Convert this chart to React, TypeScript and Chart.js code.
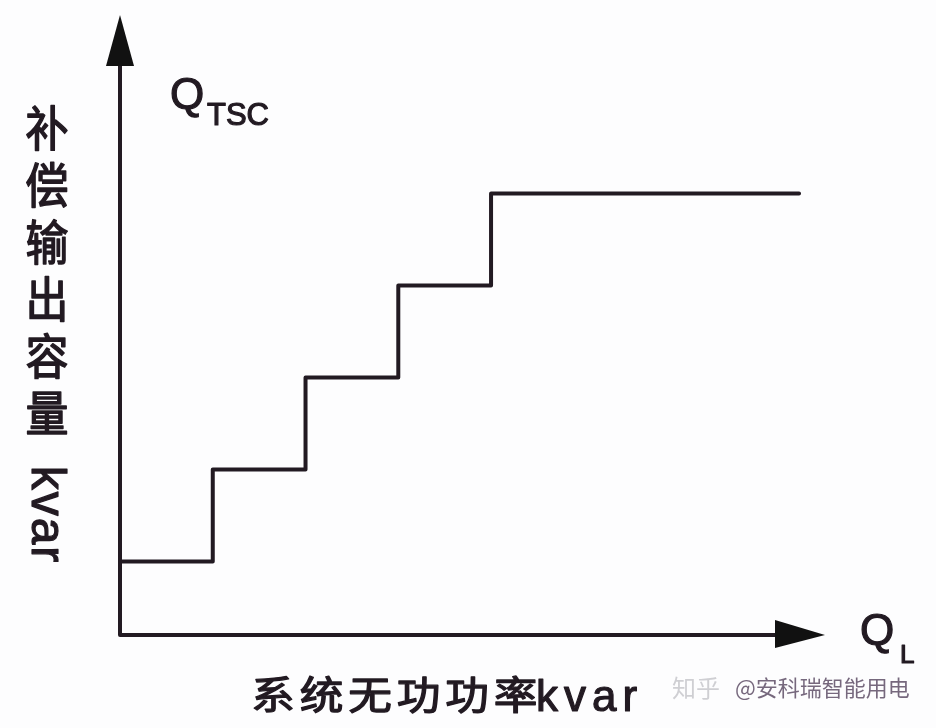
import React, { useEffect, useRef } from "react";
import { Chart, registerables } from "chart.js";

Chart.register(...registerables);

// Step levels of the TSC compensation output versus system reactive load
const loadSteps = [0, 1, 2, 3, 4, 7.32];
const outputLevels = [1, 2, 3, 4, 5, 5];
const xRange = [0, 7.6];
const yRange = [0.2, 6.94];

const yLabelChars = ["补", "偿", "输", "出", "容", "量"];
const yLabelUnit = "kvar";
const xLabelChars = ["系", "统", "无", "功", "功", "率"];
const xLabelUnit = "kvar";
const watermarkA = "知乎";
const watermarkB = "@安科瑞智能用电";

const INK = "#221a22";

export default function App() {
  const ref = useRef<HTMLCanvasElement | null>(null);

  useEffect(() => {
    if (!ref.current) return;
    const axesPlugin = {
      id: "axesPlugin",
      beforeDraw(chart: any) {
        const c = chart.ctx;
        c.save();
        c.fillStyle = "#fdfdfe";
        c.fillRect(0, 0, chart.width, chart.height);
        c.restore();
      },
      afterDraw(chart: any) {
        const c = chart.ctx as CanvasRenderingContext2D;
        const xs = chart.scales.x;
        const ys = chart.scales.y;
        const x0 = xs.getPixelForValue(xRange[0]);
        const x1 = xs.getPixelForValue(xRange[1]);
        const y0 = ys.getPixelForValue(yRange[0]);
        const y1 = ys.getPixelForValue(yRange[1]);
        c.save();
        c.strokeStyle = INK;
        c.fillStyle = "#111";
        c.lineWidth = 4;
        c.lineJoin = "round";
        // axes
        c.beginPath();
        c.moveTo(x0, y1 + 45);
        c.lineTo(x0, y0);
        c.lineTo(x1 - 45, y0);
        c.stroke();
        // y arrow
        c.beginPath();
        c.moveTo(x0, y1);
        c.lineTo(x0 - 14, y1 + 51);
        c.lineTo(x0 + 14, y1 + 51);
        c.closePath();
        c.fill();
        // x arrow
        c.beginPath();
        c.moveTo(x1, y0);
        c.lineTo(x1 - 50, y0 - 15);
        c.lineTo(x1 - 50, y0 + 13);
        c.closePath();
        c.fill();

        c.fillStyle = INK;
        // Q_TSC
        c.textBaseline = "alphabetic";
        c.textAlign = "left";
        c.font = "44px 'Liberation Sans', Arial, sans-serif";
        c.lineWidth = 1.2;
        c.fillText("Q", 170, 109);
        c.strokeText("Q", 170, 109);
        c.font = "31px 'Liberation Sans', Arial, sans-serif";
        c.fillText("TSC", 207, 125);
        c.strokeText("TSC", 207, 125);
        // Q_L
        c.font = "44px 'Liberation Sans', Arial, sans-serif";
        c.fillText("Q", 860, 645);
        c.strokeText("Q", 860, 645);
        c.font = "26px 'Liberation Sans', Arial, sans-serif";
        c.fillText("L", 900, 663);
        c.strokeText("L", 900, 663);

        // y label
        c.textAlign = "center";
        c.textBaseline = "middle";
        c.font = "43px 'Noto Sans CJK SC', sans-serif";
        c.lineWidth = 1.3;
        yLabelChars.forEach((ch, i) => {
          c.save();
          c.translate(47, 128 + i * 57);
          c.scale(1, 1.12);
          c.fillText(ch, 0, 0);
          c.strokeText(ch, 0, 0);
          c.restore();
        });
        c.save();
        c.translate(47, 515);
        c.rotate(Math.PI / 2);
        c.font = "48px 'Liberation Sans', Arial, sans-serif";
        (c as any).letterSpacing = "2px";
        c.lineWidth = 1.2;
        c.fillText(yLabelUnit, 0, 2);
        c.strokeText(yLabelUnit, 0, 2);
        c.restore();

        // x label
        c.font = "39px 'Noto Sans CJK SC', sans-serif";
        c.lineWidth = 1.3;
        xLabelChars.forEach((ch, i) => {
          c.save();
          c.translate(273 + i * 48.5, 694);
          c.scale(1.12, 1);
          c.fillText(ch, 0, 0);
          c.strokeText(ch, 0, 0);
          c.restore();
        });
        c.save();
        c.textAlign = "left";
        c.textBaseline = "alphabetic";
        c.font = "44px 'Liberation Sans', Arial, sans-serif";
        (c as any).letterSpacing = "6px";
        c.lineWidth = 1.2;
        c.fillText(xLabelUnit, 536, 711);
        c.strokeText(xLabelUnit, 536, 711);
        c.restore();

        // watermark
        c.textAlign = "left";
        c.textBaseline = "middle";
        c.font = "24px 'Noto Sans CJK SC', sans-serif";
        c.fillStyle = "rgba(150,150,160,0.45)";
        c.fillText(watermarkA, 672, 688);
        c.font = "22px 'Noto Sans CJK SC', sans-serif";
        c.fillStyle = "rgba(60,40,70,0.7)";
        c.fillText(watermarkB, 735, 688);
        c.restore();
      },
    };

    const chart = new Chart(ref.current, {
      type: "line",
      data: {
        datasets: [
          {
            data: loadSteps.map((x, i) => ({ x, y: outputLevels[i] })),
            stepped: "before",
            borderColor: INK,
            borderWidth: 4,
            pointRadius: 0,
            fill: false,
            borderJoinStyle: "round",
            borderCapStyle: "round",
          },
        ],
      },
      options: {
        responsive: false,
        animation: false,
        layout: { padding: { left: 120, right: 111, top: 15, bottom: 93 } },
        plugins: { legend: { display: false }, tooltip: { enabled: false } },
        scales: {
          x: { type: "linear", min: xRange[0], max: xRange[1], display: false },
          y: { type: "linear", min: yRange[0], max: yRange[1], display: false },
        },
      },
      plugins: [axesPlugin],
    });
    return () => chart.destroy();
  }, []);

  return (
    <div style={{ position: "fixed", left: 0, top: 0, width: 936, height: 728, background: "#fdfdfe" }}>
      <canvas ref={ref} width={936} height={728} style={{ width: 936, height: 728, display: "block" }} />
    </div>
  );
}
